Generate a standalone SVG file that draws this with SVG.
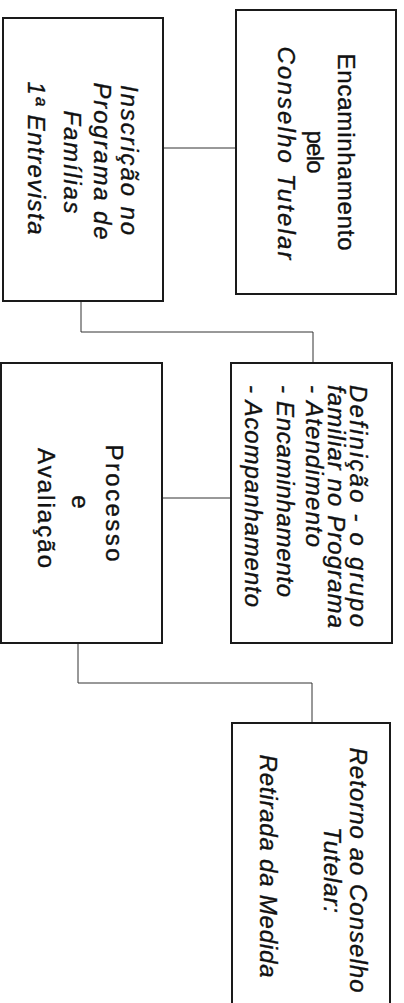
<svg xmlns="http://www.w3.org/2000/svg" width="404" height="1003" viewBox="0 0 404 1003">
<style>
.box{fill:#fff;stroke:#1a1a1a;stroke-width:2}
.con{fill:none;stroke:#333;stroke-width:1}
text{font-family:"Liberation Sans",Arial,sans-serif;fill:#111;stroke:#111;stroke-width:0.35;font-size:24px}
.it{font-style:italic}
.c{text-anchor:middle}
</style>
<rect width="404" height="1003" fill="#fff"/>
<g id="connectors">
<line class="con" x1="163" y1="148" x2="236" y2="148"/>
<polyline class="con" points="81,301 81,332 313,332 313,363"/>
<line class="con" x1="162" y1="498" x2="231" y2="498"/>
<polyline class="con" points="78,643 78,683 312,683 312,722"/>
</g>
<g id="inscricao">
<rect class="box" x="3" y="18" width="160" height="283"/>
<text class="it c" transform="translate(121,160) rotate(90)" textLength="150" lengthAdjust="spacing">Inscrição no</text>
<text class="it c" transform="translate(94,161) rotate(90)" textLength="157" lengthAdjust="spacing">Programa de</text>
<text class="it c" transform="translate(64,162) rotate(90)" textLength="103" lengthAdjust="spacing">Famílias</text>
<text class="it c" transform="translate(28,158) rotate(90)" textLength="153" lengthAdjust="spacing">1ª Entrevista</text>
</g>
<g id="encaminhamento">
<rect class="box" x="236" y="10" width="160" height="284"/>
<text class="c" transform="translate(338,152) rotate(90)" textLength="197" lengthAdjust="spacing">Encaminhamento</text>
<text class="c" transform="translate(307,152) rotate(90)" textLength="43" lengthAdjust="spacing">pelo</text>
<text class="it c" transform="translate(278,153) rotate(90)" textLength="213" lengthAdjust="spacing">Conselho Tutelar</text>
</g>
<g id="processo">
<rect class="box" x="1" y="363" width="161" height="280"/>
<text class="c" transform="translate(106,503) rotate(90)" textLength="117" lengthAdjust="spacing">Processo</text>
<text class="c" transform="translate(72,502) rotate(90)">e</text>
<text class="c" transform="translate(38,508) rotate(90)" textLength="120" lengthAdjust="spacing">Avaliação</text>
</g>
<g id="definicao">
<rect class="box" x="231" y="363" width="161" height="280"/>
<text class="it" transform="translate(350,385) rotate(90)" textLength="242" lengthAdjust="spacing">Definição - o grupo</text>
<text class="it" transform="translate(328,385) rotate(90)" textLength="243" lengthAdjust="spacing">familiar no Programa</text>
<text class="it" transform="translate(306,385) rotate(90)" textLength="162" lengthAdjust="spacing">- Atendimento</text>
<text class="it" transform="translate(277,385) rotate(90)" textLength="212" lengthAdjust="spacing">- Encaminhamento</text>
<text class="it" transform="translate(245,385) rotate(90)" textLength="222" lengthAdjust="spacing">- Acompanhamento</text>
</g>
<g id="retorno">
<rect class="box" x="232" y="723" width="158" height="300"/>
<text class="it c" transform="translate(350,870) rotate(90)" textLength="245" lengthAdjust="spacing">Retorno ao Conselho</text>
<text class="it c" transform="translate(324,870) rotate(90)" textLength="86" lengthAdjust="spacing">Tutelar:</text>
<text class="it c" transform="translate(260,866) rotate(90)" textLength="223" lengthAdjust="spacing">Retirada da Medida</text>
</g>
</svg>
